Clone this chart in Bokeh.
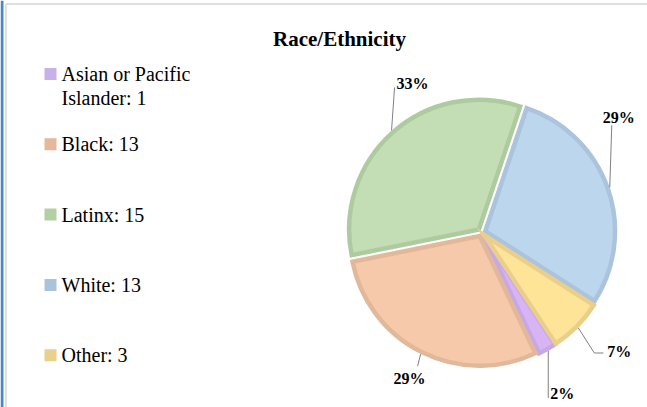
import math
import textwrap
from bokeh.plotting import figure
from bokeh.models import Range1d, ColumnDataSource
from bokeh.core.properties import value
from bokeh.embed import file_html
from bokeh.resources import INLINE

# ---------------- data ----------------
title_text = "Race/Ethnicity"
categories = ["Asian or Pacific Islander", "Black", "Latinx", "White", "Other"]
counts = [1, 13, 15, 13, 3]

# ---------------- styles ----------------
fill_colors = ["#d9b4f4", "#f5c9aa", "#c3deb4", "#bcd6ed", "#fee497"]
line_colors = ["#c7a8e6", "#e2b89b", "#aecba0", "#abc3db", "#e9cf8b"]
legend_colors = ["#c9b0e8", "#e3b89c", "#b3cfa4", "#abc3da", "#e9d08b"]
FONT = "Liberation Serif"

W, H = 647, 407
OX, OY = 0, 0
CX, CY = 481, 232         # pie centre (page px)
R = 132                   # outer radius
EXPLODE = 4
BORDER = 4.5
START_CW = 146.6          # first slice start, degrees clockwise from 12 o'clock

# leader-line end offsets from the slice anchor, elbow tail, text offsets, alignment
lead_end = [(0, 47), (-3, 12), (3, -43), (2, -62), (16, 25)]
lead_tail = [0, 0, 0, 0, 9]
text_off = [(2, -4), (-8, 12), (2, -4), (7, -8), (4, -1)]
text_align = ["left", "center", "left", "center", "left"]

LEG_X = 50
LEG_TX = 61
LEG_Y0 = 73.5
LEG_STEP = 70.3
LINE_H = 24
SWATCH = 12

p = figure(width=W, height=H, output_backend="svg", toolbar_location=None,
           x_range=Range1d(OX, OX + W), y_range=Range1d(-(OY + H), -OY),
           x_axis_type=None, y_axis_type=None, min_border=0)
p.grid.visible = False
p.outline_line_color = None
p.background_fill_color = "white"
p.border_fill_color = "white"

# ---------------- frame decoration ----------------
p.quad(left=[0], right=[3], top=[0], bottom=[-H], fill_color="#4a86c8", line_color=None)
p.segment(x0=[5.5, 5.5], y0=[-3.5, -3.5], x1=[5.5, W], y1=[-H, -3.5],
          line_color="#d4d4d4", line_width=1.5)

total = sum(counts)
pcts = [f"{round(100 * c / total)}%" for c in counts]

# ---------------- pie ----------------
wx, wy, sa, ea = [], [], [], []
ax, ay = [], []
cum = START_CW
for c in counts:
    span = 360.0 * c / total
    s_cw, e_cw = cum, cum + span
    mid = math.radians((s_cw + e_cw) / 2)
    wx.append(CX + EXPLODE * math.sin(mid))
    wy.append(-CY + EXPLODE * math.cos(mid))
    sa.append(math.radians(90 - e_cw))
    ea.append(math.radians(90 - s_cw))
    ra = R + EXPLODE
    ax.append(CX + ra * math.sin(mid))
    ay.append(CY - ra * math.cos(mid))   # page coords
    cum = e_cw

src = ColumnDataSource(dict(x=wx, y=wy, sa=sa, ea=ea, fill=fill_colors, line=line_colors))
p.wedge(x="x", y="y", radius=R - BORDER / 2, start_angle="sa", end_angle="ea",
        fill_color="fill", line_color="line", line_width=BORDER, line_join="miter", source=src)

# ---------------- leader lines & percent labels ----------------
xs, ys = [], []
tx, ty = [], []
for i in range(len(counts)):
    ex, ey = ax[i] + lead_end[i][0], ay[i] + lead_end[i][1]
    px = [ax[i], ex]
    py = [ay[i], ey]
    if lead_tail[i]:
        ex += lead_tail[i]
        px.append(ex)
        py.append(ey)
    xs.append(px)
    ys.append([-v for v in py])
    tx.append(ex + text_off[i][0])
    ty.append(-(ey + text_off[i][1]))
p.multi_line(xs=xs, ys=ys, line_color="#808080", line_width=1)
lab = ColumnDataSource(dict(x=tx, y=ty, t=pcts, a=text_align))
p.text(x="x", y="y", text="t", text_align="a", text_baseline="middle",
       text_font=value(FONT), text_font_style="bold", text_font_size="16px",
       text_color="#000000", source=lab)

# ---------------- title ----------------
p.text(x=[339], y=[-38], text=[title_text], text_align="center", text_baseline="middle",
       text_font=value(FONT), text_font_style="bold", text_font_size="21px", text_color="#000000")

# ---------------- legend ----------------
sx, sy = [], []
lx, ly, lt = [], [], []
for i, (cat, n) in enumerate(zip(categories, counts)):
    yc = LEG_Y0 + i * LEG_STEP
    sx.append(LEG_X)
    sy.append(-yc)
    for j, line in enumerate(textwrap.wrap(f"{cat}: {n}", width=17)):
        lx.append(LEG_TX)
        ly.append(-(yc + j * LINE_H))
        lt.append(line)
p.rect(x=sx, y=sy, width=SWATCH, height=SWATCH, fill_color=legend_colors, line_color=None)
p.text(x=lx, y=ly, text=lt, text_align="left", text_baseline="middle",
       text_font=value(FONT), text_font_size="20px", text_color="#000000")

open("out.html", "w").write(file_html(p, INLINE))
